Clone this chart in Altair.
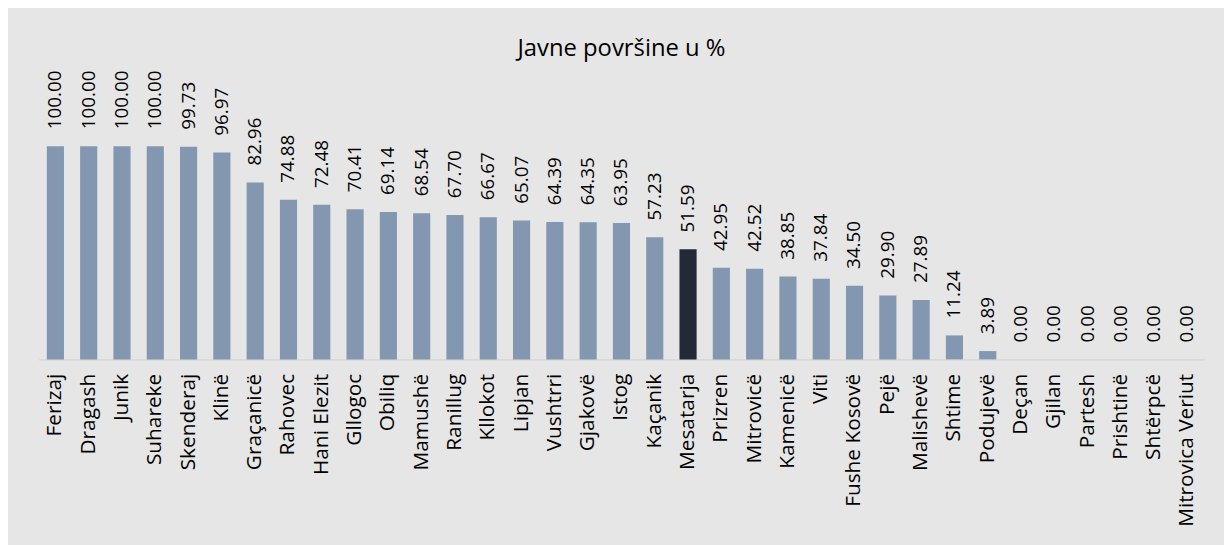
import altair as alt
import pandas as pd

municipalities = ["Ferizaj", "Dragash", "Junik", "Suhareke", "Skenderaj", "Klinë", "Graçanicë",
                  "Rahovec", "Hani Elezit", "Gllogoc", "Obiliq", "Mamushë", "Ranillug", "Kllokot",
                  "Lipjan", "Vushtrri", "Gjakovë", "Istog", "Kaçanik", "Mesatarja", "Prizren",
                  "Mitrovicë", "Kamenicë", "Viti", "Fushe Kosovë", "Pejë", "Malishevë", "Shtime",
                  "Podujevë", "Deçan", "Gjilan", "Partesh", "Prishtinë", "Shtërpcë", "Mitrovica Veriut"]
values = [100.00, 100.00, 100.00, 100.00, 99.73, 96.97, 82.96,
          74.88, 72.48, 70.41, 69.14, 68.54, 67.70, 66.67,
          65.07, 64.39, 64.35, 63.95, 57.23, 51.59, 42.95,
          42.52, 38.85, 37.84, 34.50, 29.90, 27.89, 11.24,
          3.89, 0.00, 0.00, 0.00, 0.00, 0.00, 0.00]
highlight = "Mesatarja"

df = pd.DataFrame({"name": municipalities, "value": values})
df["label"] = df["value"].map(lambda v: f"{v:.2f}")
df["avg"] = df["name"] == highlight

FONT = "Open Sans"

x = alt.X("name:N", sort=None,
          scale=alt.Scale(paddingInner=0.485, paddingOuter=0.2425),
          axis=alt.Axis(title=None, labelAngle=-90, labelAlign="right", labelBaseline="middle",
                        labelFontSize=21, labelFont=FONT, labelColor="#000000",
                        labelPadding=14, ticks=False, domainColor="#d4d4d4",
                        domainWidth=1.5, labelLimit=0))
y = alt.Y("value:Q", scale=alt.Scale(domain=[0, 100]), axis=None)

bars = alt.Chart(df).mark_bar().encode(
    x=x, y=y,
    color=alt.condition(alt.datum.avg, alt.value("#222a35"), alt.value("#8497b0")),
)

labels = alt.Chart(df).mark_text(angle=270, align="left", baseline="middle", dx=17,
                                 font=FONT, fontSize=19, color="#000000").encode(
    x=x, y=y, text="label:N"
)

chart = (bars + labels).properties(
    width=1175, height=215,
    title=alt.Title("Javne površine u %", font=FONT, fontSize=24, fontWeight="normal",
                    color="#000000", anchor="middle", offset=10),
    autosize=alt.AutoSizeParams(type="none"),
    padding={"left": 31, "top": 137, "right": 20, "bottom": 200},
    background="#e6e6e6",
).configure_view(stroke=None)

chart.save("out.html", embed_options={"renderer": "svg", "actions": False})
